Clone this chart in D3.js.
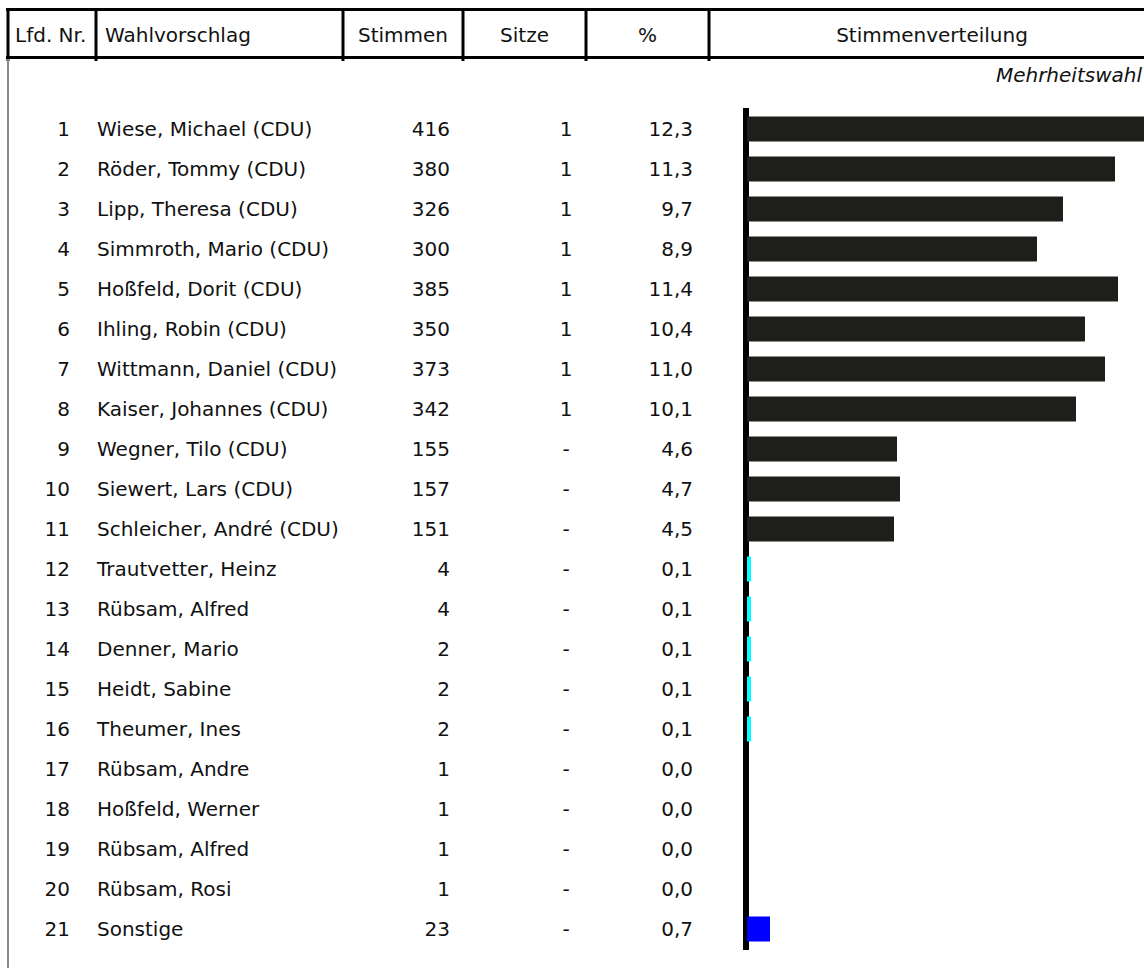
<!DOCTYPE html>
<html>
  <head>
    <meta charset="utf-8">
    <style>
      body { margin:0; background:#fff; }
      text {
        font-family: "DejaVu Sans", Verdana, sans-serif;
        font-size: 20px;
        fill: #111;
        dominant-baseline: central;
      }
      .grid line { stroke:#000; stroke-width:3px; }
      .bars rect.axis { fill:#000; }
    </style>
    <script src="https://d3js.org/d3.v7.min.js"></script>
  </head>
  <body>
    <script>
      // data
      const nr = d3.range(1, 22)
      const names = ['Wiese, Michael (CDU)','Röder, Tommy (CDU)','Lipp, Theresa (CDU)','Simmroth, Mario (CDU)',
        'Hoßfeld, Dorit (CDU)','Ihling, Robin (CDU)','Wittmann, Daniel (CDU)','Kaiser, Johannes (CDU)',
        'Wegner, Tilo (CDU)','Siewert, Lars (CDU)','Schleicher, André (CDU)','Trautvetter, Heinz',
        'Rübsam, Alfred','Denner, Mario','Heidt, Sabine','Theumer, Ines','Rübsam, Andre',
        'Hoßfeld, Werner','Rübsam, Alfred','Rübsam, Rosi','Sonstige']
      const stimmen = [416,380,326,300,385,350,373,342,155,157,151,4,4,2,2,2,1,1,1,1,23]
      const sitze = ['1','1','1','1','1','1','1','1','-','-','-','-','-','-','-','-','-','-','-','-','-']
      const prozent = [12.3,11.3,9.7,8.9,11.4,10.4,11.0,10.1,4.6,4.7,4.5,0.1,0.1,0.1,0.1,0.1,0.0,0.0,0.0,0.0,0.7]
      const gruppe = ['CDU','CDU','CDU','CDU','CDU','CDU','CDU','CDU','CDU','CDU','CDU',
        'Einzel','Einzel','Einzel','Einzel','Einzel','Einzel','Einzel','Einzel','Einzel','Sonstige']
      const headers = ['Lfd. Nr.','Wahlvorschlag','Stimmen','Sitze','%','Stimmenverteilung']

      const W = 1144, H = 968
      const svg = d3.select('body').append('svg').attr('width',W).attr('height',H)

      const rows = nr.map((n,i) => ({n, name:names[i], st:stimmen[i], si:sitze[i], p:prozent[i], g:gruppe[i]}))

      const y = d3.scaleBand().domain(nr).range([109,949]).paddingInner(0.375).paddingOuter(0.1875)
      const x = d3.scaleLinear().domain([0,10]).range([747,1072])
      const color = d3.scaleOrdinal().domain(['CDU','Einzel','Sonstige']).range(['#1e1e1a','#00ffff','#0000ff'])

      // header
      const cols = [8,96,343,463,586,709,1160]
      const $grid = svg.append('g').classed('grid',true)
      $grid.append('line').attr('x1',6).attr('x2',W).attr('y1',9.5).attr('y2',9.5)
      $grid.append('line').attr('x1',6).attr('x2',W).attr('y1',57.5).attr('y2',57.5)
      $grid.selectAll('line.v').data(cols.slice(0,-1)).enter().append('line')
        .attr('x1',d => d).attr('x2',d => d).attr('y1',8).attr('y2',61)

      const hx = [{t:headers[0],x:15,a:'start'},{t:headers[1],x:105,a:'start'},
        {t:headers[2],x:(343+463)/2,a:'middle'},{t:headers[3],x:(463+586)/2,a:'middle'},
        {t:headers[4],x:(586+709)/2,a:'middle'},{t:headers[5],x:932,a:'middle'}]
      svg.append('g').selectAll('text').data(hx).enter().append('text')
        .attr('x',d => d.x).attr('y',35).attr('text-anchor',d => d.a).text(d => d.t)

      // left border
      svg.append('line').attr('x1',8).attr('x2',8).attr('y1',59).attr('y2',H)
        .attr('stroke','#8a8a8a').attr('stroke-width',2)

      svg.append('text').attr('x',1142).attr('y',75).attr('text-anchor','end')
        .style('font-style','italic').text('Mehrheitswahl')

      // table rows
      const $rows = svg.append('g').selectAll('g').data(rows).enter().append('g')
        .attr('transform',d => `translate(0,${y(d.n)+y.bandwidth()/2})`)
      $rows.append('text').attr('x',70).attr('text-anchor','end').text(d => d.n)
      $rows.append('text').attr('x',97).text(d => d.name)
      $rows.append('text').attr('x',450).attr('text-anchor','end').text(d => d.st)
      $rows.append('text').attr('x',566).attr('text-anchor','middle').text(d => d.si)
      $rows.append('text').attr('x',693).attr('text-anchor','end').text(d => d.p.toFixed(1).replace('.',','))

      // bars
      const $bars = svg.append('g').classed('bars',true)
      $bars.append('rect').classed('axis',true).attr('x',743).attr('y',108).attr('width',6).attr('height',842)
      $bars.selectAll('rect.bar').data(rows).enter().append('rect').classed('bar',true)
        .attr('x',x(0))
        .attr('y',d => y(d.n))
        .attr('width',d => Math.ceil(x(d.p)-x(0)))
        .attr('height',y.bandwidth())
        .attr('fill',d => color(d.g))
    </script>
  </body>
</html>
